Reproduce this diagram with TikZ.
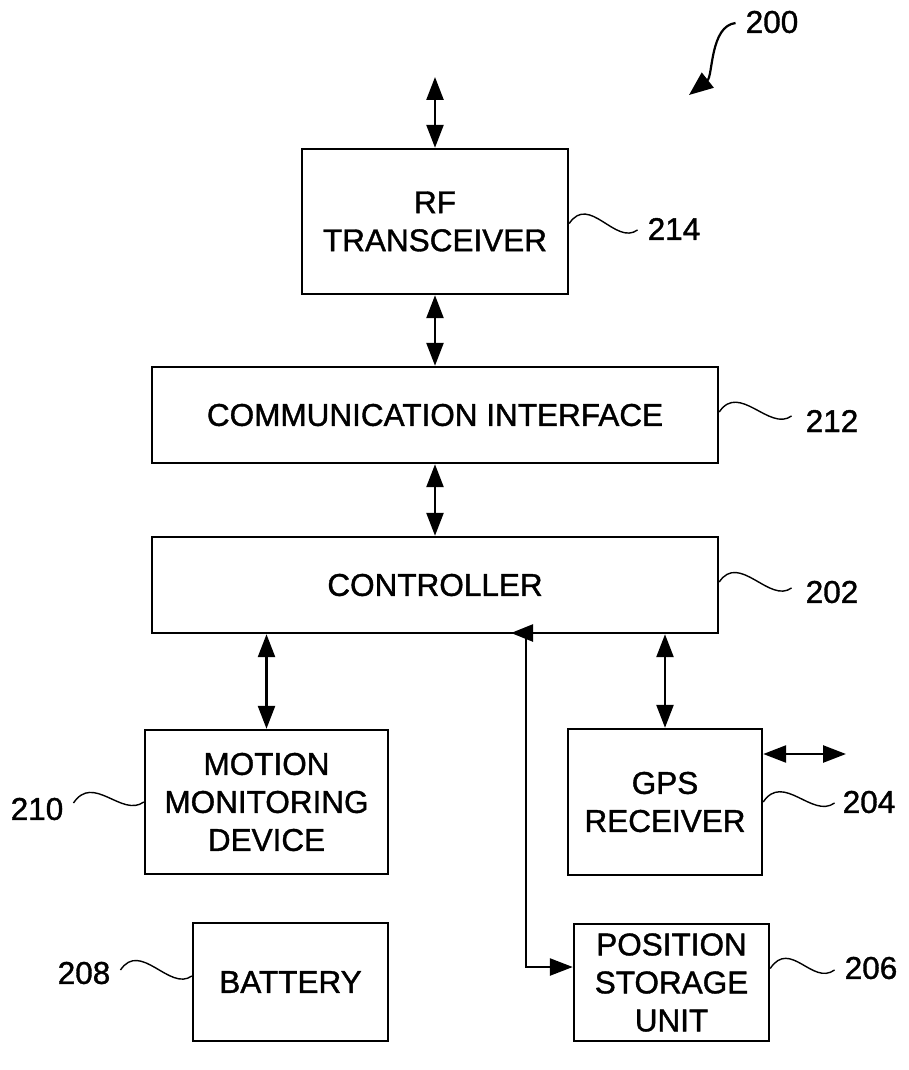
\documentclass[tikz,border=0pt]{standalone}
\usepackage{fontspec}
\setmainfont{Liberation Sans}[BoldFont=Liberation Sans,BoldFeatures={FakeBold=1.2}]
\usetikzlibrary{arrows.meta,calc}
\begin{document}
\begin{tikzpicture}[x=1pt,y=-1pt,
  box/.style={draw,line width=2.4pt,inner sep=0pt,align=center,font=\fontsize{31.5}{38}\selectfont\bfseries},
  lbl/.style={inner sep=0pt,font=\fontsize{31.5}{36}\selectfont\bfseries},
  conn/.style={line width=2.5pt,{Triangle[length=23pt,width=17pt]}-{Triangle[length=23pt,width=17pt]}},
  sq/.style={line width=1.4pt}]
\useasboundingbox (0,0) rectangle (909,1070);
% boxes
\node[box,minimum width=266pt,minimum height=145pt] (rf) at (435,221.5) {RF\\TRANSCEIVER};
\node[box,minimum width=566pt,minimum height=96pt] (comm) at (435,415) {COMMUNICATION INTERFACE};
\node[box,minimum width=566pt,minimum height=96pt] (ctrl) at (435,585) {CONTROLLER};
\node[box,minimum width=243pt,minimum height=144pt] (motion) at (266.5,802) {MOTION\\MONITORING\\DEVICE};
\node[box,minimum width=194pt,minimum height=146pt] (gps) at (665,802) {GPS\\RECEIVER};
\node[box,minimum width=195pt,minimum height=118pt] (bat) at (290.5,982) {BATTERY};
\node[box,minimum width=195pt,minimum height=117pt] (pos) at (671.5,982.5) {POSITION\\STORAGE\\UNIT};
% labels
\node[lbl] (l200) at (772,22) {200};
\node[lbl] (l214) at (674,229) {214};
\node[lbl] (l212) at (832,421) {212};
\node[lbl] (l202) at (832,592) {202};
\node[lbl] (l204) at (869,802) {204};
\node[lbl] (l206) at (871,968) {206};
\node[lbl] (l210) at (37,809) {210};
\node[lbl] (l208) at (84,973) {208};
% free ends
\coordinate (top) at (435,77);
\coordinate (gpsout) at (846,754);
\coordinate (vbot) at (526,967);
\coordinate (vtop) at (526,633);
\coordinate (atip) at (511,633);
\coordinate (abase) at (534,633);
% connectors
\draw[conn] (top) -- (rf.north);
\draw[conn] (rf.south) -- (comm.north);
\draw[conn] (comm.south) -- (ctrl.north);
\draw[conn] (ctrl.south -| motion.north) -- (motion.north);
\draw[conn] (ctrl.south -| gps.north) -- (gps.north);
\draw[conn] (gps.east |- gpsout) -- (gpsout);
\draw[line width=2.5pt,-{Triangle[length=23pt,width=17pt]}] (vtop) -- (vbot) -- (pos.west |- vbot);
\draw[line width=2.5pt,-{Triangle[length=22pt,width=17pt]}] (abase) -- (atip);
% 200 arrow
\draw[line width=2.2pt,-{Triangle[length=24pt,width=19pt]}] ($(l200.west)+(-10,1)$) .. controls (710,26) and (713,76) .. (689,95);
% squiggles
\draw[sq] ($(rf.east)+(0,2)$) .. controls +(20,-30) and +(-22,16) .. ($(l214.west)+(-10,1)$);
\draw[sq] ($(comm.east)+(0,-3)$) .. controls +(20,-30) and +(-22,16) .. ($(l212.west)+(-14,-5)$);
\draw[sq] ($(ctrl.east)+(0,-3)$) .. controls +(20,-30) and +(-22,16) .. ($(l202.west)+(-14,-4)$);
\draw[sq] (gps.east) .. controls +(20,-30) and +(-22,16) .. ($(l204.west)+(-8,1)$);
\draw[sq] ($(pos.east)+(0,-14)$) .. controls +(20,-30) and +(-22,16) .. ($(l206.west)+(-10,2)$);
\draw[sq] ($(l210.east)+(10,-6)$) .. controls +(20,-30) and +(-22,16) .. (motion.west);
\draw[sq] ($(l208.east)+(10,-3)$) .. controls +(20,-30) and +(-22,16) .. ($(bat.west)+(0,-6)$);
\end{tikzpicture}
\end{document}
